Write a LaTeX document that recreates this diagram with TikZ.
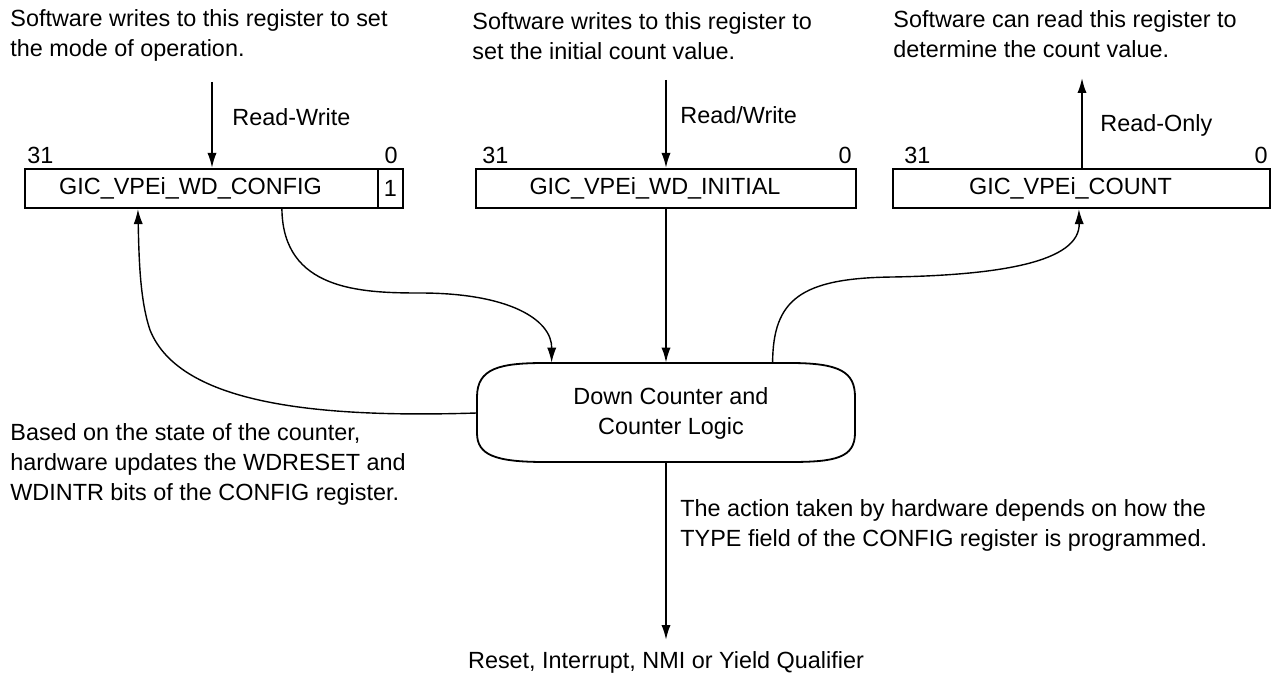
\documentclass[tikz,border=0pt]{standalone}
\usepackage{fontspec}
\setmainfont{Liberation Sans}
\usetikzlibrary{arrows.meta,calc}
\begin{document}
\begin{tikzpicture}[x=0.5pt,y=-0.5pt,
  font=\fontsize{11.7}{15}\selectfont,
  reg/.style={draw,line width=1.1pt,inner sep=0pt,minimum height=19.5pt,anchor=center},
  txt/.style={align=left,inner sep=0pt,anchor=west},
  rtxt/.style={inner sep=0pt,anchor=east},
  arr/.style={line width=0.9pt,-{Latex[length=7.5pt,width=4.6pt]}},
  conn/.style={line width=0.7pt,-{Latex[length=7.5pt,width=4.6pt]}},
]
\useasboundingbox (0,0) rectangle (1275,674);

% descriptions
\node[txt] (t1) at (10,35) {Software writes to this register to set\\the mode of operation.};
\node[txt] (t2) at (472,36) {Software writes to this register to\\set the initial count value.};
\node[txt] (t3) at (893,34) {Software can read this register to\\determine the count value.};

% registers
\node[reg,minimum width=176.5pt] (cfg) at (201.5,188.5) {\hspace*{-11pt}GIC\_VPEi\_WD\_CONFIG};
\node[reg,minimum width=12.5pt] (bit) at (390.5,188.5) {1};
\node[reg,minimum width=190pt] (ini) at (666,188.5) {\hspace*{-11pt}GIC\_VPEi\_WD\_INITIAL};
\node[reg,minimum width=188.5pt] (cnt) at (1081.5,188.5) {\hspace*{-11pt}GIC\_VPEi\_COUNT};

% bit numbers
\node[txt] (a31) at (27,155) {31};
\node[rtxt] (a0) at (398,155) {0};
\node[txt] (b31) at (482,155) {31};
\node[rtxt] (b0) at (852,155) {0};
\node[txt] (c31) at (904,155) {31};
\node[rtxt] (c0) at (1268,155) {0};

% access labels
\node[txt] (rw1) at (232,117) {Read-Write};
\node[txt] (rw2) at (680,115) {Read/Write};
\node[txt] (ro) at (1100,125) {Read-Only};

\coordinate (s1) at (212,82);
\coordinate (s2) at (666,80);
\coordinate (s3) at (1082,78);
\draw[arr] (s1) -- (s1 |- cfg.north);
\draw[arr] (s2) -- (s2 |- ini.north);
\draw[arr] (s3 |- cnt.north) -- (s3);

% counter
\node[inner sep=0pt,minimum width=189pt,minimum height=50pt,align=center] (ctr) at (666,413) {\hspace*{5pt}Down Counter and\\\hspace*{5pt}Counter Logic};
\draw[line width=0.9pt] (477,397) .. controls (477,368) and (500,363) .. (545,363) -- (790,363)
  .. controls (840,363) and (855,372) .. (855,397) -- (855,433)
  .. controls (855,458) and (835,462) .. (790,462) -- (545,462)
  .. controls (495,462) and (477,455) .. (477,433) -- cycle;

% connectors
\draw[arr] (ini.south) -- (ctr.north);
\draw[conn] ($(cfg.south west)+(258,0)$) .. controls (283,290) and (360,293) .. (420,293)
  .. controls (510,293) and (552,320) .. ($(ctr.north west)+(75,0)$);
\draw[conn] (ctr.west) .. controls (320,418) and (180,405) .. (150,330)
  .. controls (140,300) and (139,260) .. ($(cfg.south west)+(114,0)$);
\draw[conn] ($(ctr.north west)+(296,0)$) .. controls (773,300) and (800,278) .. (893,277)
  .. controls (1000,275) and (1080,262) .. ($(cnt.south west)+(187,0)$);

\coordinate (otip) at (666,640);
\draw[arr] (ctr.south) -- (otip);
\node[inner sep=0pt] (out) at (666,662) {Reset, Interrupt, NMI or Yield Qualifier};

% notes
\node[txt] (lt) at (10,464) {Based on the state of the counter,\\hardware updates the WDRESET and\\WDINTR bits of the CONFIG register.};
\node[txt] (rt) at (680,525) {The action taken by hardware depends on how the\\TYPE field of the CONFIG register is programmed.};
\end{tikzpicture}
\end{document}
